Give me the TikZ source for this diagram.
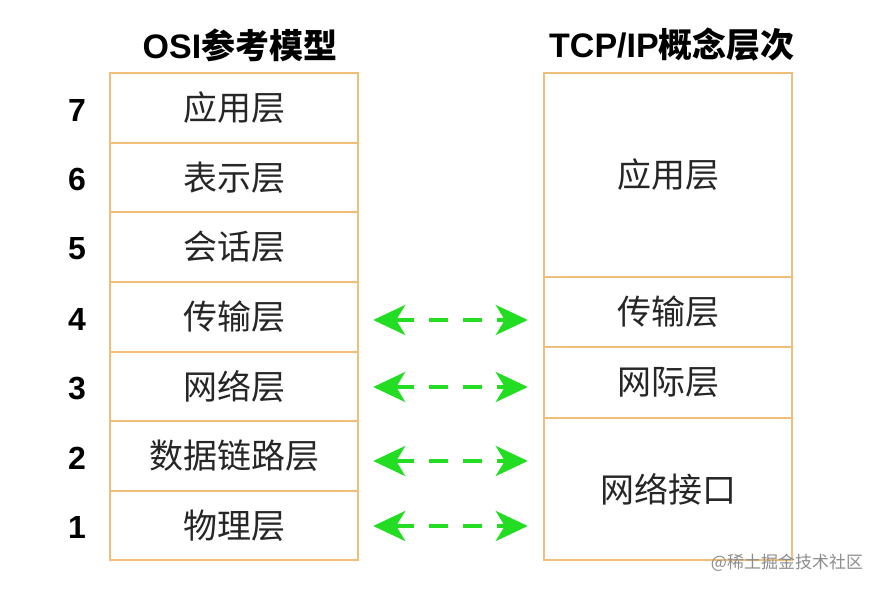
\documentclass[tikz,border=0pt]{standalone}
\usepackage{fontspec}
\setmainfont{Liberation Sans}
\newfontfamily\cjk{Noto Sans CJK SC}
\newfontfamily\cjkb{Noto Sans CJK SC Bold}
\usetikzlibrary{arrows.meta}
\definecolor{boxline}{HTML}{F0BE78}
\definecolor{arrowgreen}{HTML}{22DD22}
\begin{document}
\begin{tikzpicture}[x=1pt,y=-1pt,
  layer/.style={draw=boxline, line width=2.4pt, fill=white, minimum width=248pt, inner sep=0pt, font=\cjk\fontsize{34}{34}\selectfont, text=black!85},
  num/.style={font=\bfseries\fontsize{32}{32}\selectfont},
  heading/.style={font=\bfseries\fontsize{34}{34}\selectfont},
  link/.style={draw=arrowgreen, line width=4pt, dash pattern=on 19pt off 15pt, {Stealth[length=32pt,width=30pt,inset=9pt]}-{Stealth[length=32pt,width=30pt,inset=9pt]}, shorten <=14pt, shorten >=15pt}]
\useasboundingbox (0,0) rectangle (886,591);
% OSI column
\foreach \n/\t/\ya/\yb in {7/应用层/73/143,6/表示层/143/212,5/会话层/212/282,4/传输层/282/352,3/网络层/352/421,2/数据链路层/421/491,1/物理层/491/560}{
  \node[layer, minimum height={\yb-\ya}] (osi\n) at (234,{(\ya+\yb)/2}) {\t};
  \node[num] (n\n) at (77,{(\ya+\yb)/2+2}) {\n};
}
% TCP/IP column
\node[layer, minimum height=204pt] (tcpA) at (668,175) {应用层};
\node[layer, minimum height=70pt] (tcpT) at (668,312) {传输层};
\node[layer, minimum height=71pt] (tcpI) at (668,382.5) {网际层};
\node[layer, minimum height=142pt] (tcpN) at (668,489) {网络接口};
% headings
\node[heading] (h1) at (240,45) {OSI{\cjkb 参考模型}};
\node[heading] (h2) at (672,45) {TCP/IP{\cjkb 概念层次}};
% arrows
\draw[link] (osi4.east |- 0,320) -- (tcpT.west |- 0,320);
\draw[link] (osi3.east |- 0,387) -- (tcpI.west |- 0,387);
\draw[link] (osi2.east |- 0,461) -- (tcpN.west |- 0,461);
\draw[link] (osi1.east |- 0,526) -- (tcpN.west |- 0,526);
% watermark
\node[font=\cjk\fontsize{17}{17}\selectfont, text=black!45] (wm) at (787,563) {@稀土掘金技术社区};
\end{tikzpicture}
\end{document}
